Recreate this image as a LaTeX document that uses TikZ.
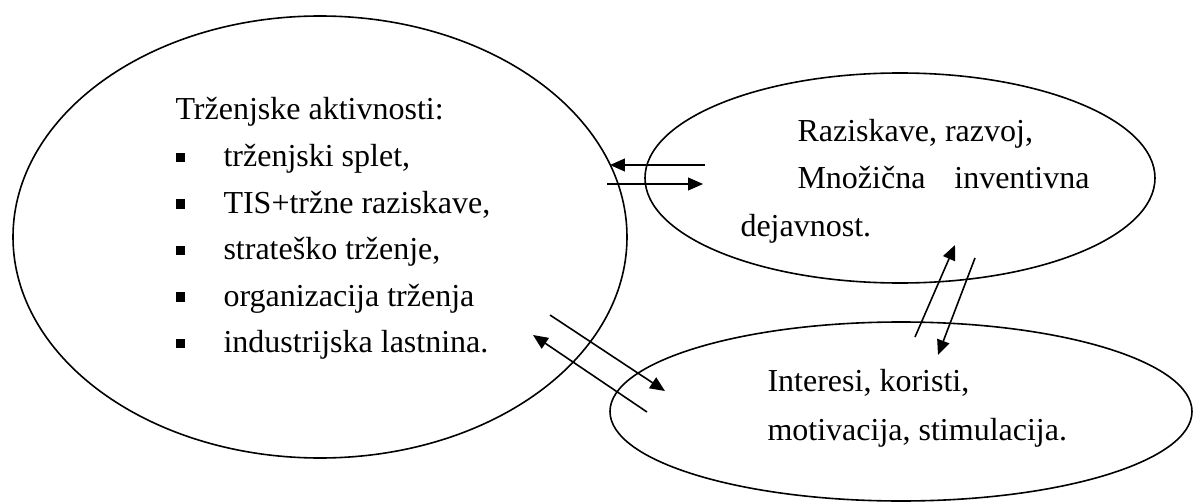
\documentclass[tikz,border=0pt]{standalone}
\usepackage{fontspec}
\setmainfont{Liberation Serif}
\usetikzlibrary{shapes.geometric,arrows.meta}
\begin{document}
\begin{tikzpicture}[x=0.375pt,y=-0.375pt,
  oval/.style={draw, ellipse, line width=0.6pt, inner sep=0pt},
  txt/.style={anchor=base west, inner sep=0pt, font=\fontsize{12}{14}\selectfont},
  txtr/.style={anchor=base east, inner sep=0pt, font=\fontsize{12}{14}\selectfont},
  bul/.style={fill=black, inner sep=0pt, minimum size=3.4pt},
  arr/.style={line width=0.6pt, -{Triangle[length=5.6pt,width=4.8pt]}}]
\useasboundingbox (0,0) rectangle (1194,503);
% ellipses
\node[oval, minimum width=230.25pt, minimum height=165.75pt] (big) at (320,237) {};
\node[oval, minimum width=191.25pt, minimum height=78.75pt] (rd) at (900,178) {};
\node[oval, minimum width=218.25pt, minimum height=67.125pt] (ik) at (901,411.5) {};
% left text
\node[txt] (t0) at (175,120) {Trženjske aktivnosti:};
\node[txt] (t1) at (223,166.5) {trženjski splet,};
\node[txt] (t2) at (223,213) {TIS+tržne raziskave,};
\node[txt] (t3) at (223,259.5) {strateško trženje,};
\node[txt] (t4) at (223,306) {organizacija trženja};
\node[txt] (t5) at (223,352.5) {industrijska lastnina.};
\node[bul] (b1) at (180.5,157.5) {};
\node[bul] (b2) at (180.5,204) {};
\node[bul] (b3) at (180.5,250.5) {};
\node[bul] (b4) at (180.5,297) {};
\node[bul] (b5) at (180.5,343.5) {};
% top right text
\node[txt] (r1) at (797,141) {Raziskave, razvoj,};
\node[txt] (r2) at (797,188) {Množična};
\node[txtr] (r3) at (1090,188) {inventivna};
\node[txt] (r4) at (740,236) {dejavnost.};
% bottom text
\node[txt] (i1) at (767,391) {Interesi, koristi,};
\node[txt] (i2) at (767,440) {motivacija, stimulacija.};
% arrows
\coordinate (a1s) at (705,165); \coordinate (a1e) at (610,165);
\coordinate (a2s) at (607,184); \coordinate (a2e) at (703,184);
\coordinate (a3s) at (550,315); \coordinate (a3e) at (665,391);
\coordinate (a4s) at (647,412); \coordinate (a4e) at (533,335);
\coordinate (a5s) at (915,337); \coordinate (a5e) at (955,245);
\coordinate (a6s) at (975,258); \coordinate (a6e) at (938,355);
\draw[arr] (a1s) -- (a1e);
\draw[arr] (a2s) -- (a2e);
\draw[arr] (a3s) -- (a3e);
\draw[arr] (a4s) -- (a4e);
\draw[arr] (a5s) -- (a5e);
\draw[arr] (a6s) -- (a6e);
\end{tikzpicture}
\end{document}
